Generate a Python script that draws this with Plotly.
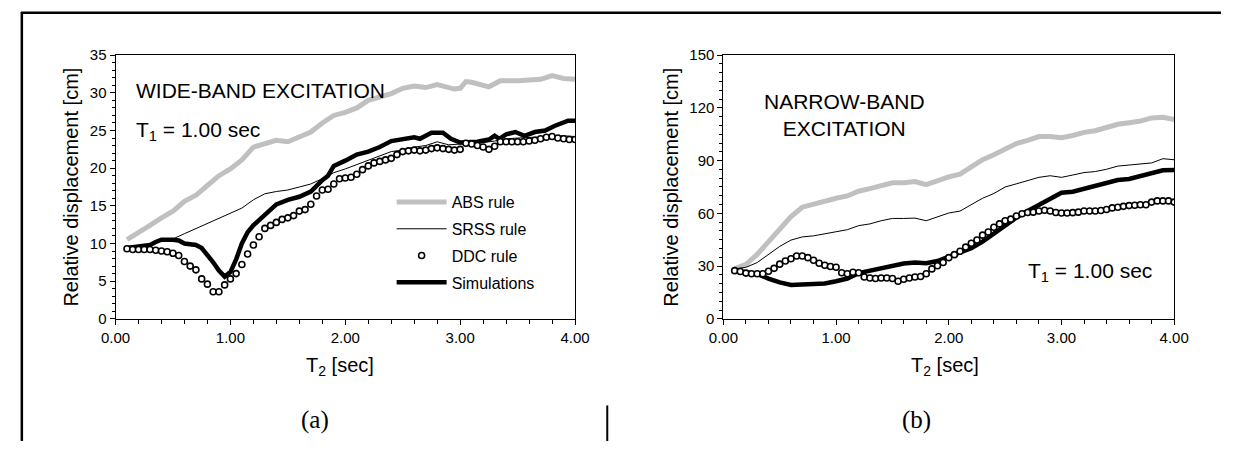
import plotly.graph_objects as go

# ---------------- data: (a) wide-band excitation ----------------
T_line = [0.1, 0.2, 0.3, 0.4, 0.5, 0.6, 0.7, 0.8, 0.9, 1.0,
          1.1, 1.2, 1.3, 1.4, 1.5, 1.6, 1.7, 1.8, 1.9, 2.0,
          2.1, 2.2, 2.3, 2.4, 2.5, 2.6, 2.7, 2.8, 2.9, 3.0,
          3.1, 3.2, 3.3, 3.4, 3.5, 3.6, 3.7, 3.8, 3.9, 4.0]

T_ddc = [0.10, 0.15, 0.20, 0.25, 0.30, 0.35, 0.40, 0.45, 0.50, 0.55,
         0.60, 0.65, 0.70, 0.75, 0.80, 0.85, 0.90, 0.95, 1.00, 1.05,
         1.10, 1.15, 1.20, 1.25, 1.30, 1.35, 1.40, 1.45, 1.50, 1.55,
         1.60, 1.65, 1.70, 1.75, 1.80, 1.85, 1.90, 1.95, 2.00, 2.05,
         2.10, 2.15, 2.20, 2.25, 2.30, 2.35, 2.40, 2.45, 2.50, 2.55,
         2.60, 2.65, 2.70, 2.75, 2.80, 2.85, 2.90, 2.95, 3.00, 3.05,
         3.10, 3.15, 3.20, 3.25, 3.30, 3.35, 3.40, 3.45, 3.50, 3.55,
         3.60, 3.65, 3.70, 3.75, 3.80, 3.85, 3.90, 3.95, 4.00]

T_abs_a = [0.1, 0.2, 0.3, 0.4, 0.5, 0.6, 0.7, 0.8, 0.9, 1.0,
           1.1, 1.2, 1.3, 1.4, 1.5, 1.6, 1.7, 1.8, 1.9, 2.0,
           2.1, 2.2, 2.3, 2.4, 2.5, 2.6, 2.7, 2.8, 2.95, 3.0,
           3.05, 3.1, 3.25, 3.35, 3.5, 3.6, 3.7, 3.8, 3.9, 4.0]
abs_a = [10.5, 11.4, 12.4, 13.4, 14.3, 15.6, 16.4, 17.7, 19.0, 19.9,
         21.1, 22.8, 23.3, 23.7, 23.5, 24.1, 24.8, 26.0, 27.0, 27.4,
         28.0, 29.0, 29.5, 29.9, 30.6, 30.9, 30.7, 31.1, 30.5, 30.6,
         31.5, 31.4, 30.8, 31.6, 31.6, 31.7, 31.8, 32.3, 31.9, 31.8]

srss_a = [9.6, 9.7, 9.9, 10.3, 10.6, 11.3, 12.0, 12.6, 13.4, 14.1,
          14.7, 15.8, 16.6, 16.9, 17.1, 17.5, 17.9, 18.6, 19.4, 19.9,
          20.5, 21.1, 21.6, 22.2, 22.4, 22.8, 23.0, 23.5, 23.1, 23.2,
          23.4, 23.4, 23.6, 23.9, 24.0, 24.1, 24.2, 24.3, 24.3, 24.2]

T_sim_a = [0.1, 0.2, 0.3, 0.35, 0.4, 0.5, 0.55, 0.6, 0.7, 0.75,
           0.8, 0.85, 0.9, 0.95, 1.0, 1.05, 1.1, 1.15, 1.2, 1.3,
           1.4, 1.5, 1.6, 1.7, 1.75, 1.8, 1.85, 1.9, 2.0, 2.1,
           2.2, 2.3, 2.4, 2.5, 2.6, 2.65, 2.75, 2.85, 2.92, 3.0,
           3.15, 3.25, 3.3, 3.34, 3.4, 3.48, 3.56, 3.65, 3.74, 3.82,
           3.94, 4.0]
sim_a = [9.4, 9.6, 9.8, 10.2, 10.5, 10.5, 10.4, 10.0, 9.8, 9.4,
         8.5, 7.5, 6.4, 5.6, 6.2, 7.9, 10.0, 11.5, 12.4, 13.9,
         15.2, 15.8, 16.2, 16.9, 17.7, 18.4, 19.0, 20.3, 21.0, 21.8,
         22.2, 22.8, 23.6, 23.8, 24.1, 23.9, 24.7, 24.7, 23.9, 23.4,
         23.5, 23.8, 24.3, 23.9, 24.5, 24.8, 24.3, 24.8, 25.0, 25.6,
         26.3, 26.3]

ddc_a = [9.3, 9.2, 9.2, 9.2, 9.2, 9.1, 9.0, 8.9, 8.7, 8.4,
         7.6, 7.0, 6.5, 5.3, 4.6, 3.6, 3.6, 4.5, 5.3, 6.0,
         7.2, 8.6, 9.8, 10.9, 12.0, 12.4, 12.8, 13.2, 13.4, 13.7,
         14.3, 14.5, 15.2, 16.3, 17.1, 17.2, 17.9, 18.6, 18.7, 18.8,
         19.2, 19.8, 20.3, 20.7, 20.9, 21.1, 21.3, 21.8, 22.2, 22.3,
         22.4, 22.3, 22.4, 22.6, 22.7, 22.6, 22.5, 22.4, 22.5, 23.3,
         23.2, 23.0, 22.8, 22.5, 22.9, 23.5, 23.5, 23.5, 23.5, 23.5,
         23.6, 23.7, 23.9, 24.1, 24.2, 24.0, 23.9, 23.8, 23.8]

# ---------------- data: (b) narrow-band excitation ----------------
abs_b = [28.4, 31.0, 36.6, 43.9, 51.2, 58.2, 63.5, 65.3, 66.4, 68.6,
         69.9, 72.6, 74.1, 75.9, 77.4, 77.4, 78.1, 76.3, 78.7, 80.8,
         82.3, 86.0, 90.5, 93.3, 96.9, 99.7, 101.5, 103.7, 103.7, 103.0,
         104.3, 106.1, 107.0, 108.8, 110.7, 111.6, 112.5, 114.3, 114.7, 113.4]

srss_b = [28.4, 29.3, 32.0, 36.6, 41.2, 44.8, 46.6, 47.2, 48.5, 49.8,
          50.7, 53.0, 54.0, 55.8, 57.1, 57.1, 57.3, 55.8, 58.0, 60.2,
          61.3, 64.9, 68.6, 71.3, 75.0, 76.8, 78.7, 80.5, 81.4, 80.5,
          81.8, 83.2, 83.8, 85.1, 86.9, 87.4, 87.8, 88.7, 91.1, 90.5]

sim_b = [27.4, 26.5, 25.6, 22.9, 20.7, 19.2, 19.6, 20.1, 20.1, 21.4,
         22.9, 26.0, 27.4, 29.3, 30.2, 31.5, 32.0, 31.6, 32.9, 35.2,
         37.5, 40.2, 43.9, 48.5, 53.0, 57.6, 61.3, 64.9, 68.6, 71.7,
         72.3, 74.1, 75.5, 77.7, 79.0, 79.6, 81.4, 82.9, 84.5, 84.7]

ddc_b = [27.4, 26.9, 26.0, 25.6, 25.6, 25.6, 27.1, 28.7, 31.1, 32.9,
         34.2, 35.7, 35.7, 34.8, 33.3, 31.6, 30.5, 29.8, 29.3, 26.2,
         25.6, 26.5, 26.2, 23.8, 23.2, 22.9, 23.2, 23.2, 22.9, 21.4,
         22.5, 23.2, 23.8, 24.1, 25.6, 28.4, 30.2, 32.0, 34.8, 36.5,
         38.4, 40.8, 43.0, 44.8, 47.6, 49.4, 52.1, 54.0, 55.8, 56.7,
         58.5, 59.8, 60.5, 60.7, 61.3, 61.8, 61.3, 60.5, 60.2, 60.2,
         60.4, 60.7, 61.3, 61.3, 61.3, 61.6, 62.2, 63.1, 63.5, 64.0,
         64.4, 64.6, 64.9, 64.9, 66.4, 67.1, 67.1, 67.1, 66.4]

series_names = ["ABS rule", "SRSS rule", "DDC rule", "Simulations"]
x_ticks = [0, 1, 2, 3, 4]

# ---------------- figure ----------------
W, H = 1236, 449
FONT = "Liberation Sans, Arial, sans-serif"
SERIF = "Liberation Serif, serif"
GRAY = "#c0c0c0"


def px(x):
    return x / W


def py(y):
    return 1 - y / H


fig = go.Figure()


def add_panel(xa, ya, T_abs, y_abs, y_srss, T_sim, y_sim, y_ddc, show):
    fig.add_trace(go.Scatter(x=T_abs, y=y_abs, mode="lines", name=series_names[0],
                             line=dict(color=GRAY, width=5), xaxis=xa, yaxis=ya,
                             showlegend=show, legendrank=1, legendgroup="g1"))
    fig.add_trace(go.Scatter(x=T_line, y=y_srss, mode="lines", name=series_names[1],
                             line=dict(color="black", width=1), xaxis=xa, yaxis=ya,
                             showlegend=show, legendrank=2, legendgroup="g2"))
    fig.add_trace(go.Scatter(x=T_sim, y=y_sim, mode="lines", name=series_names[3],
                             line=dict(color="black", width=4.5), xaxis=xa, yaxis=ya,
                             showlegend=show, legendrank=4, legendgroup="g4"))
    fig.add_trace(go.Scatter(x=T_ddc, y=y_ddc, mode="markers", name=series_names[2],
                             marker=dict(symbol="circle", size=6, color="white",
                                         line=dict(color="black", width=1.6)),
                             xaxis=xa, yaxis=ya,
                             showlegend=show, legendrank=3, legendgroup="g3"))


add_panel("x", "y", T_abs_a, abs_a, srss_a, T_sim_a, sim_a, ddc_a, True)
add_panel("x2", "y2", T_line, abs_b, srss_b, T_line, sim_b, ddc_b, False)

xcommon = dict(range=[0, 4], tickvals=x_ticks, tickformat=".2f", ticks="outside",
               ticklen=5, tickcolor="black", showline=True, linecolor="black",
               linewidth=1, mirror=True, showgrid=False, zeroline=False,
               tickfont=dict(size=15, color="black", family=FONT),
               minor=dict(dtick=0.2, ticks="outside", ticklen=4, tickcolor="black"))
ycommon = dict(ticks="outside", ticklen=5, tickcolor="black", showline=True,
               linecolor="black", linewidth=1, mirror=True, showgrid=False,
               zeroline=False, tickfont=dict(size=15, color="black", family=FONT))

fig.update_layout(
    width=W, height=H,
    margin=dict(l=0, r=0, t=0, b=0),
    paper_bgcolor="white", plot_bgcolor="white",
    font=dict(family=FONT, color="black"),
    xaxis=dict(domain=[px(103), px(574)], anchor="y", **xcommon),
    yaxis=dict(domain=[py(322), py(48)], anchor="x", range=[0, 35], dtick=5,
               minor=dict(dtick=1, ticks="outside", ticklen=3, tickcolor="black"),
               **ycommon),
    xaxis2=dict(domain=[px(726), px(1188)], anchor="y2", **xcommon),
    yaxis2=dict(domain=[py(322), py(48)], anchor="x2", range=[0, 150], dtick=30,
                minor=dict(dtick=5, ticks="outside", ticklen=3, tickcolor="black"),
                **ycommon),
    legend=dict(x=px(386), y=py(183), xanchor="left", yanchor="top",
                font=dict(size=16, color="black", family=FONT),
                bgcolor="rgba(0,0,0,0)", itemwidth=50, tracegroupgap=3,
                traceorder="grouped"),
    showlegend=True,
)

ann = []
# axis titles
for cx in (57, 672):
    ann.append(dict(x=px(cx), y=py(185), xref="paper", yref="paper",
                    text="Relative displacement [cm]", textangle=-90, showarrow=False,
                    font=dict(size=20, family=FONT, color="black"),
                    xanchor="center", yanchor="middle"))
for cx in (333, 953):
    ann.append(dict(x=px(cx), y=py(372), xref="paper", yref="paper",
                    text="T<sub>2</sub> [sec]", showarrow=False,
                    font=dict(size=20, family=FONT, color="black"),
                    xanchor="center", yanchor="middle"))
# captions
ann.append(dict(x=px(307), y=py(427), xref="paper", yref="paper", text="(a)",
                showarrow=False, font=dict(size=25, family=SERIF, color="black"),
                xanchor="center", yanchor="middle"))
ann.append(dict(x=px(924), y=py(427), xref="paper", yref="paper", text="(b)",
                showarrow=False, font=dict(size=25, family=SERIF, color="black"),
                xanchor="center", yanchor="middle"))
# in-plot labels
ann.append(dict(x=px(122), y=py(85), xref="paper", yref="paper",
                text="WIDE-BAND EXCITATION", showarrow=False,
                font=dict(size=21, family=FONT, color="black"),
                xanchor="left", yanchor="middle"))
ann.append(dict(x=px(122), y=py(127), xref="paper", yref="paper",
                text="T<sub>1</sub> = 1.00 sec", showarrow=False,
                font=dict(size=21, family=FONT, color="black"),
                xanchor="left", yanchor="middle"))
ann.append(dict(x=px(850), y=py(110), xref="paper", yref="paper",
                text="NARROW-BAND<br>EXCITATION", showarrow=False, align="center",
                font=dict(size=21, family=FONT, color="black"),
                xanchor="center", yanchor="middle"))
ann.append(dict(x=px(1036), y=py(273), xref="paper", yref="paper",
                text="T<sub>1</sub> = 1.00 sec", showarrow=False,
                font=dict(size=21, family=FONT, color="black"),
                xanchor="left", yanchor="middle"))
fig.update_layout(annotations=ann)

# outer frame (top and left border lines, and divider stub at the bottom)
fig.add_shape(type="line", xref="paper", yref="paper", x0=px(6), x1=1, y0=py(4), y1=py(4),
              line=dict(color="black", width=2.5))
fig.add_shape(type="line", xref="paper", yref="paper", x0=px(7), x1=px(7), y0=py(3), y1=0,
              line=dict(color="black", width=2.5))
fig.add_shape(type="line", xref="paper", yref="paper", x0=px(607), x1=px(607), y0=py(412), y1=0,
              line=dict(color="black", width=2))

fig.write_html(
    "out.html",
    config={"displayModeBar": False, "staticPlot": True},
    post_script="document.body.style.margin='0';document.body.style.overflow='hidden';",
)
